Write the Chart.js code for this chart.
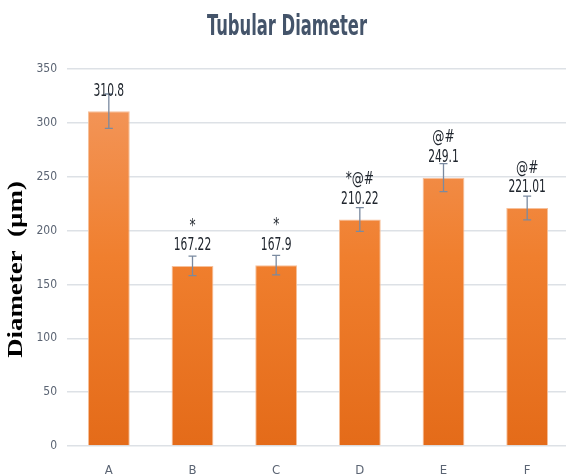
<!DOCTYPE html>
<html>
<head>
<meta charset="utf-8">
<script src="https://cdn.jsdelivr.net/npm/chart.js@4.4.0/dist/chart.umd.min.js"></script>
<style>
  html, body { margin: 0; padding: 0; background: #fff; overflow: hidden; }
  #wrap { width: 572px; height: 476px; }
</style>
</head>
<body>
<div id="wrap"><canvas id="chart" width="572" height="476"></canvas></div>
<script>
// data
const categories = ['A', 'B', 'C', 'D', 'E', 'F'];
const diameters = [310.8, 167.22, 167.9, 210.22, 249.1, 221.01];
const errors = [16, 9, 9, 11, 13, 11];
const markers = ['', '*', '*', '*@#', '@#', '@#'];
const yMax = 350;
const yStep = 50;
const chartTitle = 'Tubular Diameter';
const yTitle = 'Diameter  (\u00b5m)';

const narrow = '"DejaVu Sans Condensed", "Liberation Sans Narrow", sans-serif';

// draws text squeezed horizontally (the original picture has tall, narrow lettering)
function squeezedText(ctx, text, x, y, sx) {
    ctx.save();
    ctx.translate(x, y);
    ctx.scale(sx, 1);
    ctx.fillText(text, 0, 0);
    ctx.restore();
}

// error bars, value labels, significance marks and the titles
const annotations = {
    id: 'annotations',
    afterDatasetsDraw(chart) {
        const { ctx, chartArea, scales: { y } } = chart;
        const meta = chart.getDatasetMeta(0);
        ctx.save();
        ctx.textAlign = 'center';
        ctx.textBaseline = 'middle';

        meta.data.forEach((bar, i) => {
            const x = bar.x;
            const top = y.getPixelForValue(diameters[i] + errors[i]);
            const bottom = y.getPixelForValue(diameters[i] - errors[i]);
            const cap = 4;

            ctx.strokeStyle = '#7a8aa0';
            ctx.lineWidth = 1.3;
            ctx.beginPath();
            ctx.moveTo(x, top);
            ctx.lineTo(x, bottom);
            ctx.moveTo(x - cap, top);
            ctx.lineTo(x + cap, top);
            ctx.moveTo(x - cap, bottom);
            ctx.lineTo(x + cap, bottom);
            ctx.stroke();

            const labelY = bar.y - 20;
            ctx.fillStyle = '#20262e';
            ctx.font = '17px ' + narrow;
            squeezedText(ctx, String(diameters[i]), x, labelY, 0.7);

            if (markers[i]) {
                ctx.font = '18px ' + narrow;
                squeezedText(ctx, markers[i], x, labelY - 20, 0.75);
            }
        });

        // chart title
        ctx.fillStyle = '#44546a';
        ctx.font = 'bold 28px ' + narrow;
        squeezedText(ctx, chartTitle, chart.width / 2 + 1, 28, 0.65);

        // y axis title, rotated and stretched along its length
        ctx.save();
        ctx.translate(17, (chartArea.top + chartArea.bottom) / 2 + 12);
        ctx.rotate(-Math.PI / 2);
        ctx.scale(1.28, 1);
        ctx.fillStyle = '#000';
        ctx.font = 'bold 21px "Liberation Serif", "DejaVu Serif", serif';
        ctx.fillText(yTitle, 0, 0);
        ctx.restore();

        ctx.restore();
    }
};

const config = {
    type: 'bar',
    data: {
        labels: categories,
        datasets: [{
            data: diameters,
            backgroundColor: (c) => {
                const area = c.chart.chartArea;
                if (!area) return '#ee7d32';
                const g = c.chart.ctx.createLinearGradient(0, area.top, 0, area.bottom);
                g.addColorStop(0, '#f39a62');
                g.addColorStop(0.5, '#f07f2e');
                g.addColorStop(1, '#e46b19');
                return g;
            },
            borderColor: '#f7c09a',
            borderWidth: 1,
            categoryPercentage: 1,
            barPercentage: 0.5
        }]
    },
    plugins: [annotations],
    options: {
        responsive: false,
        animation: false,
        layout: { padding: { top: 69, right: 3, left: 4, bottom: 0 } },
        plugins: {
            legend: { display: false },
            tooltip: { enabled: false },
            title: { display: false }
        },
        scales: {
            x: {
                grid: { display: false, drawTicks: false },
                border: { display: false },
                ticks: {
                    color: '#5b6473',
                    font: { family: narrow, size: 13 },
                    padding: 17
                },
                afterFit: (s) => { s.height = 30; }
            },
            y: {
                min: 0,
                max: yMax,
                border: { display: false },
                grid: { color: '#dde1e6', lineWidth: 1.5, drawTicks: false },
                ticks: {
                    stepSize: yStep,
                    color: '#5b6473',
                    font: { family: narrow, size: 12 },
                    padding: 10
                },
                afterFit: (s) => { s.width = 63; }
            }
        }
    }
};

new Chart(document.getElementById('chart'), config);
</script>
</body>
</html>
